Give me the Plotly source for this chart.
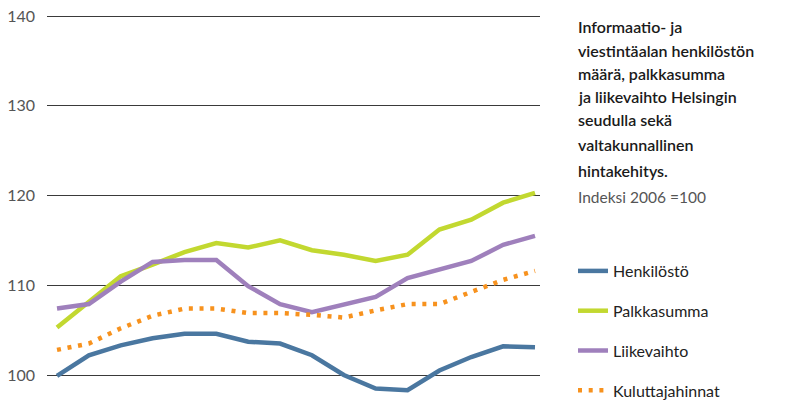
import plotly.graph_objects as go

x_idx = list(range(16))
henkilosto = [99.9, 102.2, 103.3, 104.1, 104.6, 104.6, 103.7, 103.5, 102.2, 100.0, 98.5, 98.3, 100.5, 102.0, 103.2, 103.1]
palkkasumma = [105.3, 108.2, 111.0, 112.3, 113.7, 114.7, 114.2, 115.0, 113.9, 113.4, 112.7, 113.4, 116.2, 117.3, 119.2, 120.3]
liikevaihto = [107.4, 107.9, 110.4, 112.6, 112.8, 112.8, 109.9, 107.9, 107.0, 107.8, 108.7, 110.8, 111.7, 112.7, 114.5, 115.5]
kuluttajahinnat = [102.8, 103.5, 105.2, 106.6, 107.4, 107.4, 106.9, 106.9, 106.7, 106.4, 107.2, 107.9, 107.9, 109.2, 110.6, 111.6]
y_ticks = [100, 110, 120, 130, 140]

title_lines = ["Informaatio- ja", "viestintäalan henkilöstön", "määrä, palkkasumma",
               "ja liikevaihto Helsingin", "seudulla sekä", "valtakunnallinen", "hintakehitys."]
subtitle = "Indeksi 2006 =100"

FONT = "Lato"
fig = go.Figure()
series = [
    ("Henkilöstö", henkilosto, "#4a77a0", "solid", 4.5),
    ("Palkkasumma", palkkasumma, "#c2d830", "solid", 4.5),
    ("Liikevaihto", liikevaihto, "#9f80bc", "solid", 4.5),
    ("Kuluttajahinnat", kuluttajahinnat, "#f7921e", "4px,6.7px", 4.5),
]
for i, (name, ys, col, dash, w) in enumerate(series):
    fig.add_trace(go.Scatter(x=x_idx, y=ys, mode="lines", name=name,
                             line=dict(color=col, width=w, dash=dash),
                             legendgroup=f"g{i}"))

W, H = 789, 400
ml, mr, mt, mb = 47, 0, 13, 0
pw = W - ml - mr
ph = H - mt - mb

def px_x(p):
    return (p - ml) / pw

def px_y(p):
    return 1 - (p - mt) / ph

fig.update_layout(
    width=W, height=H,
    margin=dict(l=ml, r=mr, t=mt, b=mb, pad=0, autoexpand=False),
    paper_bgcolor="white", plot_bgcolor="white",
    font=dict(family=FONT, size=15, color="#222"),
    xaxis=dict(domain=[0, (540 - ml) / pw], range=[-0.314, 15.157], showgrid=False,
               showticklabels=False, zeroline=False, showline=False, ticks=""),
    yaxis=dict(range=[97.214, 140.334], tickvals=y_ticks, showgrid=True,
               gridcolor="#3a3a3a", gridwidth=1, zeroline=False, showline=False,
               ticks="", ticklabelstandoff=11,
               tickfont=dict(family=FONT, size=16, color="#555")),
    showlegend=True,
    legend=dict(x=px_x(573), y=px_y(254), xref="paper", yref="paper",
                xanchor="left", yanchor="top", orientation="v",
                tracegroupgap=16, itemwidth=30,
                font=dict(family=FONT, size=16, color="#222"),
                bgcolor="rgba(0,0,0,0)"),
)

ys_title = [27, 50, 73, 97, 120, 145, 170]
for t, yp in zip(title_lines, ys_title):
    fig.add_annotation(text=t, xref="paper", yref="paper",
                       x=px_x(576), y=px_y(yp),
                       xanchor="left", yanchor="middle", showarrow=False,
                       font=dict(family=FONT, size=16, color="#1a1a1a", weight=600))
fig.add_annotation(text=subtitle, xref="paper", yref="paper",
                   x=px_x(576), y=px_y(197),
                   xanchor="left", yanchor="middle", showarrow=False,
                   font=dict(family=FONT, size=15.5, color="#555"))

fig.write_html("out.html", config={"displayModeBar": False},
               post_script="document.body.style.margin='0';document.body.style.overflow='hidden';")
